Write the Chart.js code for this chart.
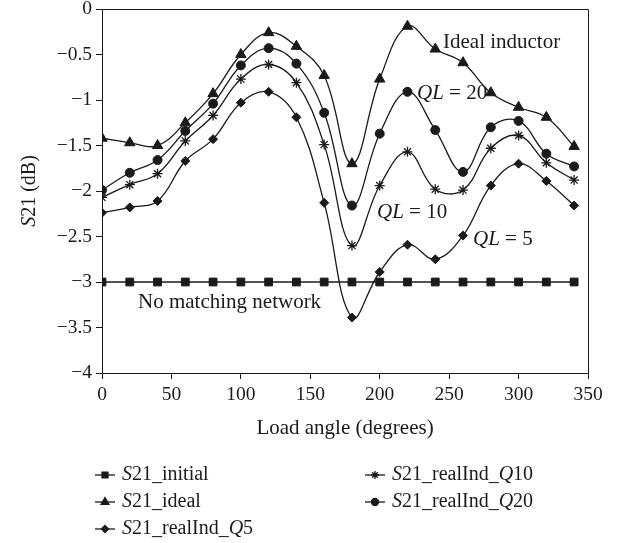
<!DOCTYPE html>
<html>
<head>
<meta charset="utf-8">
<script src="https://cdn.jsdelivr.net/npm/chart.js@4"></script>
<style>
  html, body { margin: 0; padding: 0; background: #fff; }
  #wrap { width: 623px; height: 543px; }
</style>
</head>
<body>
<div id="wrap"><canvas id="chart" width="623" height="543"></canvas></div>
<script>
// load angle in degrees
const angles = [0, 20, 40, 60, 80, 100, 120, 140, 160, 180, 200, 220, 240, 260, 280, 300, 320, 340];

// S21 in dB for each case
const s21Initial = [-3, -3, -3, -3, -3, -3, -3, -3, -3, -3, -3, -3, -3, -3, -3, -3, -3, -3];
const s21Ideal = [-1.42, -1.47, -1.50, -1.25, -0.93, -0.50, -0.26, -0.41, -0.73, -1.70, -0.77, -0.19, -0.44, -0.59, -0.92, -1.08, -1.19, -1.51];
const s21Q5 = [-2.24, -2.18, -2.11, -1.67, -1.43, -1.03, -0.91, -1.19, -2.13, -3.39, -2.89, -2.59, -2.75, -2.49, -1.94, -1.70, -1.89, -2.16];
const s21Q10 = [-2.07, -1.93, -1.81, -1.45, -1.17, -0.77, -0.61, -0.81, -1.49, -2.60, -1.94, -1.57, -1.98, -1.99, -1.53, -1.39, -1.69, -1.88];
const s21Q20 = [-1.99, -1.80, -1.66, -1.34, -1.04, -0.62, -0.43, -0.60, -1.14, -2.16, -1.37, -0.91, -1.33, -1.79, -1.30, -1.23, -1.59, -1.73];

const xTicks = [0, 50, 100, 150, 200, 250, 300, 350];
const yTicks = [0, -0.5, -1, -1.5, -2, -2.5, -3, -3.5, -4];

const FONT = '"Liberation Serif", "DejaVu Serif", serif';
const INK = '#1a1a1a';

function pts(vals) {
    return angles.map((a, i) => ({ x: a, y: vals[i] }));
}

function series(label, vals, style, r, smooth) {
    return {
        label: label,
        data: pts(vals),
        borderColor: INK,
        backgroundColor: INK,
        borderWidth: 1.3,
        pointStyle: style,
        pointRadius: r,
        pointBorderWidth: style === 'star' ? 1.3 : 1,
        pointBorderColor: INK,
        pointBackgroundColor: INK,
        tension: smooth ? 0.4 : 0,
        fill: false
    };
}

const datasets = [
    series('S21_initial', s21Initial, 'rect', 5.5, false),
    series('S21_ideal', s21Ideal, 'triangle', 6, true),
    series('S21_realInd_Q5', s21Q5, 'rectRot', 4.5, true),
    series('S21_realInd_Q10', s21Q10, 'star', 5, true),
    series('S21_realInd_Q20', s21Q20, 'circle', 4.5, true)
];

// draws text made of plain / italic pieces
function richText(ctx, parts, x, y, size, align) {
    let total = 0;
    parts.forEach(p => {
        ctx.font = (p[1] ? 'italic ' : '') + size + 'px ' + FONT;
        total += ctx.measureText(p[0]).width;
    });
    let cx = align === 'center' ? x - total / 2 : x;
    ctx.textAlign = 'left';
    ctx.textBaseline = 'middle';
    parts.forEach(p => {
        ctx.font = (p[1] ? 'italic ' : '') + size + 'px ' + FONT;
        ctx.fillText(p[0], cx, y);
        cx += ctx.measureText(p[0]).width;
    });
}

const legendItems = [
    { style: 'rect', r: 4.2, text: [['S', true], ['21_initial', false]], x: 95, y: 475 },
    { style: 'triangle', r: 4.5, text: [['S', true], ['21_ideal', false]], x: 95, y: 502 },
    { style: 'rectRot', r: 3.5, text: [['S', true], ['21_realInd_', false], ['Q', true], ['5', false]], x: 95, y: 529 },
    { style: 'star', r: 4, text: [['S', true], ['21_realInd_', false], ['Q', true], ['10', false]], x: 365, y: 475 },
    { style: 'circle', r: 3.5, text: [['S', true], ['21_realInd_', false], ['Q', true], ['20', false]], x: 365, y: 502 }
];

const decorPlugin = {
    id: 'decor',
    afterDraw(chart) {
        const ctx = chart.ctx;
        const a = chart.chartArea;
        ctx.save();
        // box frame top and right
        ctx.strokeStyle = INK;
        ctx.lineWidth = 1;
        ctx.beginPath();
        ctx.moveTo(a.left, a.top + 0.5);
        ctx.lineTo(a.right + 0.5, a.top + 0.5);
        ctx.lineTo(a.right + 0.5, a.bottom);
        ctx.stroke();

        ctx.fillStyle = INK;
        // curve labels
        richText(ctx, [['Ideal inductor', false]], 443, 42, 21);
        richText(ctx, [['QL', true], [' = 20', false]], 417, 93, 21);
        richText(ctx, [['QL', true], [' = 10', false]], 377, 212, 21);
        richText(ctx, [['QL', true], [' = 5', false]], 473, 239, 21);
        richText(ctx, [['No matching network', false]], 138, 302, 21);

        // axis titles
        richText(ctx, [['Load angle (degrees)', false]], (a.left + a.right) / 2, 428, 21, 'center');
        ctx.save();
        ctx.translate(30, (a.top + a.bottom) / 2);
        ctx.rotate(-Math.PI / 2);
        richText(ctx, [['S', true], ['21 (dB)', false]], 0, 0, 20, 'center');
        ctx.restore();

        // legend
        legendItems.forEach(it => {
            ctx.strokeStyle = INK;
            ctx.lineWidth = 1.3;
            ctx.beginPath();
            ctx.moveTo(it.x, it.y);
            ctx.lineTo(it.x + 20, it.y);
            ctx.stroke();
            ctx.fillStyle = INK;
            Chart.helpers.drawPoint(ctx, {
                pointStyle: it.style, radius: it.r, rotation: 0, borderWidth: 1.2
            }, it.x + 10, it.y);
            ctx.fillStyle = INK;
            richText(ctx, it.text, it.x + 27, it.y, 20);
        });
        ctx.restore();
    }
};

new Chart(document.getElementById('chart').getContext('2d'), {
    type: 'line',
    data: { datasets: datasets },
    options: {
        responsive: false,
        animation: false,
        layout: { padding: { top: 9, right: 35, left: 0, bottom: 0 } },
        plugins: {
            legend: { display: false },
            tooltip: { enabled: false }
        },
        scales: {
            x: {
                type: 'linear',
                min: 0,
                max: 350,
                afterBuildTicks: s => { s.ticks = xTicks.map(v => ({ value: v })); },
                afterFit: s => { s.height = 170; s.paddingLeft = 0; s.paddingRight = 0; },
                ticks: { color: INK, font: { family: FONT, size: 19.5 }, padding: 4, maxRotation: 0 },
                grid: { drawOnChartArea: false, drawTicks: true, tickLength: 6, color: INK },
                border: { color: INK, width: 1 }
            },
            y: {
                min: -4,
                max: 0,
                afterBuildTicks: s => { s.ticks = yTicks.map(v => ({ value: v })); },
                afterFit: s => { s.width = 102; s.paddingTop = 0; s.paddingBottom = 0; },
                ticks: {
                    color: INK,
                    font: { family: FONT, size: 19.5 },
                    padding: 4,
                    callback: v => (v < 0 ? '\u2212' : '') + Math.abs(v)
                },
                grid: { drawOnChartArea: false, drawTicks: true, tickLength: 6, color: INK },
                border: { color: INK, width: 1 }
            }
        }
    },
    plugins: [decorPlugin]
});
</script>
</body>
</html>
